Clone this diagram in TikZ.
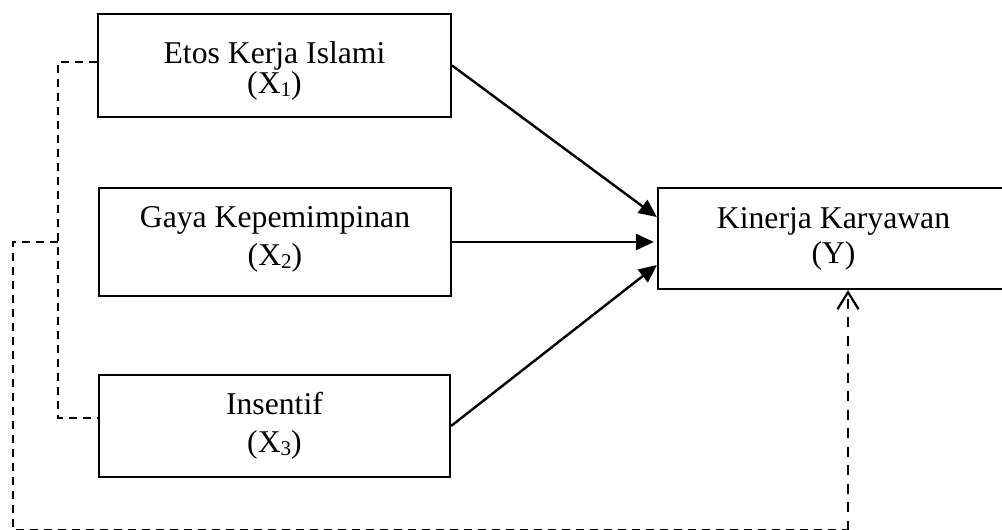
\documentclass[tikz,border=0pt]{standalone}
\usepackage{fontspec}
\setmainfont{Liberation Serif}
\usetikzlibrary{arrows.meta}
\newcommand\subidx[1]{\raisebox{-3pt}{\fontsize{21}{21}\selectfont #1}}
\begin{document}
\begin{tikzpicture}[x=1pt,y=-1pt,
  box/.style={draw, line width=2.2pt, inner xsep=0pt, inner ysep=0pt,
    align=center, anchor=base},
  bfont/.style={font=\fontsize{31.7}{#1}\selectfont},
  arr/.style={line width=2.4pt, -{Triangle[length=18pt,width=16pt]}},
  dsh/.style={line width=2.2pt, dash pattern=on 8pt off 6pt},
  dshb/.style={line width=2.2pt, dash pattern=on 10pt off 8.5pt},
]
\useasboundingbox (0,0) rectangle (1002,530);
\node[box, bfont=30, minimum width=353pt, text height=79pt, text depth=24pt]
  (X1) at (274.5,93) {Etos Kerja Islami\\(X\subidx{1})};
\node[box, bfont=38, minimum width=352pt, text height=77pt, text depth=31pt]
  (X2) at (275,265) {Gaya Kepemimpinan\\(X\subidx{2})};
\node[box, bfont=38, minimum width=351pt, text height=77pt, text depth=25pt]
  (X3) at (274.5,452) {Insentif\\(X\subidx{3})};
\node[box, bfont=35, minimum width=351pt, text height=75pt, text depth=26pt]
  (Y) at (833.5,263) {Kinerja Karyawan\\(Y)};

\draw[arr] (X1.east) -- ([yshift=21.5pt]Y.west);
\draw[arr] (X2.east) -- ([xshift=-3pt,yshift=-3.5pt]Y.west);
\draw[arr] (X3.east) -- ([yshift=-26.5pt]Y.west);

\coordinate (L1) at (58,62);
\coordinate (L2) at (58,418);
\coordinate (J) at (58,242);
\coordinate (B1) at (13,242);
\coordinate (B2) at (13,530.5);
\coordinate (B3) at (848,530.5);
\draw[dsh] ([yshift=3.5pt]X1.west) -- (L1) -- (L2) -- ([yshift=8pt]X3.west);
\draw[dsh] (J) -- (B1) -- (B2) -- (B3);
\draw[dshb, -{Straight Barb[length=17pt,width=21pt]}] (B3) -- (B3 |- Y.south);
\end{tikzpicture}
\end{document}
